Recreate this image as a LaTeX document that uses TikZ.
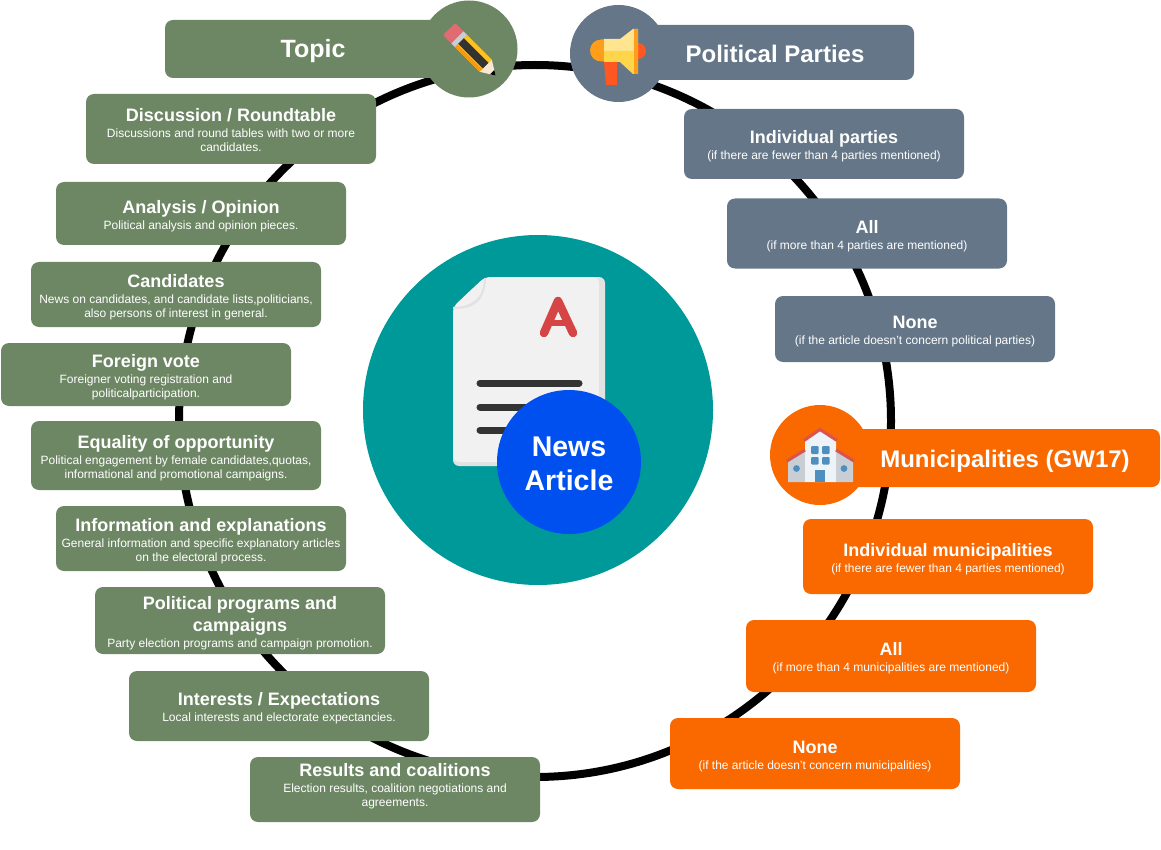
\documentclass[tikz,border=0pt]{standalone}
\usepackage{fontspec}
\setsansfont{Liberation Sans}
\definecolor{topicgreen}{HTML}{6D8764}
\definecolor{partyslate}{HTML}{647687}
\definecolor{muniorange}{HTML}{FA6800}
\definecolor{articleteal}{HTML}{009999}
\definecolor{articleblue}{HTML}{0050EF}
\definecolor{paper}{HTML}{F1F1F1}
\definecolor{papershade}{HTML}{E2E2E2}
\definecolor{inkdark}{HTML}{333333}
\definecolor{letterred}{HTML}{D64545}
\definecolor{pencilyellow}{HTML}{FFC21F}
\definecolor{pencilorange}{HTML}{F59A12}
\definecolor{eraserpink}{HTML}{E06B70}
\definecolor{woodtip}{HTML}{F7E7D3}
\definecolor{hornlight}{HTML}{FFE58F}
\definecolor{hornmid}{HTML}{FFD54A}
\definecolor{hornorange}{HTML}{FF9E1B}
\definecolor{hornred}{HTML}{FF5722}
\definecolor{roofred}{HTML}{D9534F}
\definecolor{wallgrey}{HTML}{C9CED4}
\definecolor{wallwhite}{HTML}{EEF3F7}
\definecolor{windowblue}{HTML}{4F8FBF}
\newcommand{\boxhead}[1]{{\fontsize{18}{20}\selectfont\bfseries #1}}
\tikzset{
  infobox/.style={rounded corners=8pt, minimum width=290pt, inner sep=0pt},
  topicbox/.style={infobox, fill=topicgreen},
  partybox/.style={infobox, fill=partyslate},
  munibox/.style={infobox, fill=muniorange},
  boxtext/.style={inner sep=0pt, align=center, text=white, font=\sffamily\fontsize{12}{14}\selectfont},
  iconcircle/.style={circle, inner sep=0pt},
  headtext/.style={text=white, inner sep=0pt},
}
\begin{document}
\begin{tikzpicture}[x=1pt, y=-1pt]
\useasboundingbox (0,0) rectangle (1161,850);

% Ring behind the boxes
\node[circle, draw=black, line width=8pt, minimum size=712pt, inner sep=0pt] (ring) at (535,421) {};

% Topic column
\node[topicbox, minimum width=290pt, minimum height=58pt] (topichead) at (310,49) {};
\node[topicbox, minimum height=70pt] (discussion) at (231,129) {};
\node[boxtext] (discussiontext) at (231,130) {\boxhead{Discussion / Roundtable}\\[2pt]Discussions and round tables with two or more\\candidates.};
\node[topicbox, minimum height=63pt] (analysis) at (201,213.5) {};
\node[boxtext] (analysistext) at (201,216.5) {\boxhead{Analysis / Opinion}\\[2pt]Political analysis and opinion pieces.};
\node[topicbox, minimum height=65pt] (candidates) at (176,294.5) {};
\node[boxtext] (candidatestext) at (176,297.5) {\boxhead{Candidates}\\[2pt]News on candidates, and candidate lists,politicians,\\also persons of interest in general.};
\node[topicbox, minimum height=63pt] (foreign) at (146,374.5) {};
\node[boxtext] (foreigntext) at (146,377.5) {\boxhead{Foreign vote}\\[2pt]Foreigner voting registration and\\politicalparticipation.};
\node[topicbox, minimum height=69pt] (equality) at (176,455.5) {};
\node[boxtext] (equalitytext) at (176,458) {\boxhead{Equality of opportunity}\\[2pt]Political engagement by female candidates,quotas,\\informational and promotional campaigns.};
\node[topicbox, minimum height=65pt] (information) at (201,538.5) {};
\node[boxtext] (informationtext) at (201,541.5) {\boxhead{Information and explanations}\\[2pt]General information and specific explanatory articles\\on the electoral process.};
\node[topicbox, minimum height=67pt] (programs) at (240,620.5) {};
\node[boxtext] (programstext) at (240,623.5) {\boxhead{Political programs and}\\[4pt]\boxhead{campaigns}\\[2pt]Party election programs and campaign promotion.};
\node[topicbox, minimum width=300pt, minimum height=70pt] (interests) at (279,706) {};
\node[boxtext] (intereststext) at (279,708.5) {\boxhead{Interests / Expectations}\\[2pt]Local interests and electorate expectancies.};
\node[topicbox, minimum height=65pt] (results) at (395,789.5) {};
\node[boxtext] (resultstext) at (395,786) {\boxhead{Results and coalitions}\\[2pt]Election results, coalition negotiations and\\agreements.};

% Party column
\node[partybox, minimum width=290pt, minimum height=55pt] (partyhead) at (769,52.5) {};
\node[partybox, minimum width=280pt, minimum height=70pt] (individualparties) at (824,144) {};
\node[boxtext] (individualpartiestext) at (824,146) {\boxhead{Individual parties}\\[2pt](if there are fewer than 4 parties mentioned)};
\node[partybox, minimum width=280pt, minimum height=70pt] (allparties) at (867,233.5) {};
\node[boxtext] (allpartiestext) at (867,236.5) {\boxhead{All}\\[2pt](if more than 4 parties are mentioned)};
\node[partybox, minimum width=280pt, minimum height=66pt] (noparties) at (915,329) {};
\node[boxtext] (nopartiestext) at (915,331.5) {\boxhead{None}\\[2pt](if the article doesn't concern political parties)};

% Municipality column
\node[munibox, minimum width=330pt, minimum height=58pt] (munihead) at (995,458) {};
\node[munibox, minimum height=75pt] (individualmunis) at (948,556.5) {};
\node[boxtext] (individualmunistext) at (948,559.5) {\boxhead{Individual municipalities}\\[2pt](if there are fewer than 4 parties mentioned)};
\node[munibox, minimum height=72pt] (allmunis) at (891,656) {};
\node[boxtext] (allmunistext) at (891,658) {\boxhead{All}\\[2pt](if more than 4 municipalities are mentioned)};
\node[munibox, minimum height=71pt] (nomunis) at (815,753.5) {};
\node[boxtext] (nomunistext) at (815,757) {\boxhead{None}\\[2pt](if the article doesn't concern municipalities)};

% Icon circles
\node[iconcircle, fill=topicgreen, minimum size=97pt] (topiccircle) at (469,49) {};
\node[iconcircle, fill=partyslate, minimum size=97pt] (partycircle) at (618.5,53.5) {};
\node[iconcircle, fill=muniorange, minimum size=100pt] (municircle) at (820,455) {};

% Head texts
\node[headtext, font=\sffamily\bfseries\fontsize{25}{28}\selectfont] (topictext) at (313,51) {Topic};
\node[headtext, font=\sffamily\bfseries\fontsize{24}{26}\selectfont] (partytext) at (775,53.5) {Political Parties};
\node[headtext, font=\sffamily\bfseries\fontsize{24}{26}\selectfont] (munitext) at (1005,461) {Municipalities (GW17)};

% Pencil
\begin{scope}[shift={(449,29)}, rotate=-45]
  \fill[eraserpink, rounded corners=2pt] (0,-8.5) rectangle (13,8.5);
  \fill[wallgrey] (12,-8.5) rectangle (17,8.5);
  \fill[pencilyellow] (17,-8.5) rectangle (52,8.5);
  \fill[pencilorange] (17,5) rectangle (52,8.5);
  \fill[inkdark] (17,-4) rectangle (52,4);
  \fill[woodtip] (52,-8.5) -- (66,0) -- (52,8.5) -- cycle;
  \fill[black] (61,-3) -- (66,0) -- (61,3) -- cycle;
\end{scope}

% Megaphone
\fill[hornorange] (601,39.5) arc[start angle=270, end angle=90, radius=11] -- (605,61.5) -- (605,39.5) -- cycle;
\fill[hornred] (638,43) arc[start angle=270, end angle=450, x radius=8, y radius=8] -- cycle;
\fill[hornred] (604,62) -- (617,62) -- (617,85) -- (606,85) -- cycle;
\fill[hornlight] (604,39) -- (620,39) -- (633,29) -- (638,29) -- (638,51) -- (604,51) -- cycle;
\fill[hornmid] (604,51) -- (638,51) -- (638,74) -- (633,74) -- (620,62) -- (604,62) -- cycle;
\fill[hornorange] (634,29) rectangle (638,74);

% House
\fill[wallgrey] (788,462) -- (805,451) -- (805,482) -- (788,482) -- cycle;
\fill[wallgrey] (836,451) -- (853,462) -- (853,482) -- (836,482) -- cycle;
\fill[wallwhite] (805,441) -- (820,431) -- (836,441) -- (836,482) -- (805,482) -- cycle;
\draw[roofred, line width=3pt] (787,461) -- (805,450);
\draw[roofred, line width=3pt] (836,450) -- (854,461);
\draw[roofred, line width=3pt] (804,440.5) -- (820,429.5) -- (837,440.5);
\fill[windowblue, rounded corners=1pt] (811,446) rectangle (818.5,454);
\fill[windowblue, rounded corners=1pt] (822,446) rectangle (829.5,454);
\fill[windowblue, rounded corners=1pt] (811,457) rectangle (818.5,464.5);
\fill[windowblue, rounded corners=1pt] (822,457) rectangle (829.5,464.5);
\fill[windowblue] (815,470) rectangle (825,482);
\fill[windowblue] (796.5,468.5) circle[radius=3.4];
\fill[windowblue] (844,468.5) circle[radius=3.4];

% Centre of the picture
\node[circle, fill=articleteal, minimum size=350pt, inner sep=0pt] (articlecircle) at (538,410) {};
\fill[papershade, rounded corners=6pt] (453,307) -- (485,277) -- (605,277) -- (605,466) -- (453,466) -- cycle;
\fill[paper, rounded corners=6pt] (453,307) -- (485,277) -- (599,277) -- (599,462) -- (453,462) -- cycle;
\fill[papershade] (453,309) .. controls (470,309) and (485,305) .. (486,278) -- (484,278) .. controls (484,298) and (472,307) .. (453,307) -- cycle;
\draw[letterred, line width=8.5pt, line cap=round, line join=round] (544,333) -- (558,301) -- (573,333);
\draw[letterred, line width=6pt] (549,323) -- (568,323);
\draw[inkdark, line width=7pt, line cap=round] (480,383) -- (579,383);
\draw[inkdark, line width=7pt, line cap=round] (480,407) -- (540,407);
\draw[inkdark, line width=7pt, line cap=round] (480,430) -- (540,430);
\node[circle, fill=articleblue, minimum size=144pt, inner sep=0pt] (articledisc) at (569,462) {};
\node[boxtext, font=\sffamily\bfseries\fontsize{28.5}{34}\selectfont] (articletext) at (569,463.5) {News\\Article};
\end{tikzpicture}
\end{document}
